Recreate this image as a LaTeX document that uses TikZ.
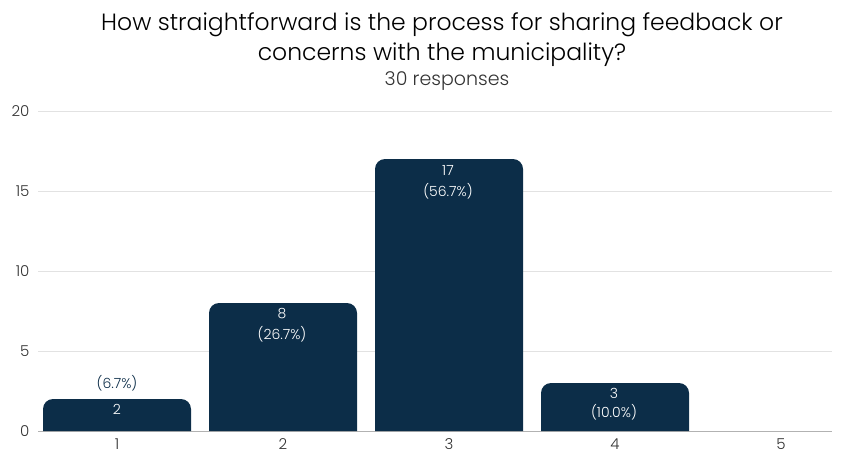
\documentclass[tikz,border=0pt]{standalone}
\usepackage{fontspec}
\setmainfont{Poppins}[UprightFont=* Light]
\definecolor{barnavy}{RGB}{12,45,72}
\definecolor{axisgray}{RGB}{51,51,51}
\definecolor{gridgray}{RGB}{226,226,226}

\begin{document}
\begin{tikzpicture}[x=1pt,y=-1pt,
    ticklabel/.style={text=axisgray,font=\fontsize{15}{18}\selectfont},
    barlabel/.style={text=white,font=\fontsize{14}{17}\selectfont},
    outlabel/.style={text=barnavy,font=\fontsize{14}{17}\selectfont}]
  \useasboundingbox (0,0) rectangle (845,455);

  % タイトル
  \node[text=black,font=\fontsize{23.5}{30}\selectfont,align=center] (title) at (442,39.5)
    {How straightforward is the process for sharing feedback or\\concerns with the municipality?};
  \node[text=axisgray,font=\fontsize{19}{22}\selectfont] (subtitle) at (447,81) {30 responses};

  % 目盛り線
  \foreach \v in {5,10,15,20} {
    \draw[gridgray,line width=0.8] (38,431-16*\v) -- (832,431-16*\v);
  }
  \draw[gray!60,line width=0.8] (38,431) -- (832,431);
  \foreach \v in {0,5,10,15,20} {
    \node[ticklabel,anchor=east] (tick\v) at (33,431-16*\v) {\v};
  }

  % 棒
  \foreach \i/\n in {1/2,2/8,3/17,4/3} {
    \fill[barnavy] (117+166*\i-166-74,431) [rounded corners=10] -- (117+166*\i-166-74,431-16*\n)
      -- (117+166*\i-166+74,431-16*\n) [sharp corners] -- (117+166*\i-166+74,431) -- cycle;
  }

  \foreach \i in {1,2,...,5} {
    \node[ticklabel] (cat\i) at (117+166*\i-166,444) {\i};
  }

  % ラベル
  \node[barlabel] (cnt1) at (117,409) {2};
  \node[outlabel] (pct1) at (117,383) {(6.7\%)};
  \node[barlabel] (cnt2) at (282,314) {8};
  \node[barlabel] (pct2) at (282,334) {(26.7\%)};
  \node[barlabel] (cnt3) at (448,170) {17};
  \node[barlabel] (pct3) at (448,191) {(56.7\%)};
  \node[barlabel] (cnt4) at (614,393) {3};
  \node[barlabel] (pct4) at (614,412) {(10.0\%)};
\end{tikzpicture}
\end{document}
